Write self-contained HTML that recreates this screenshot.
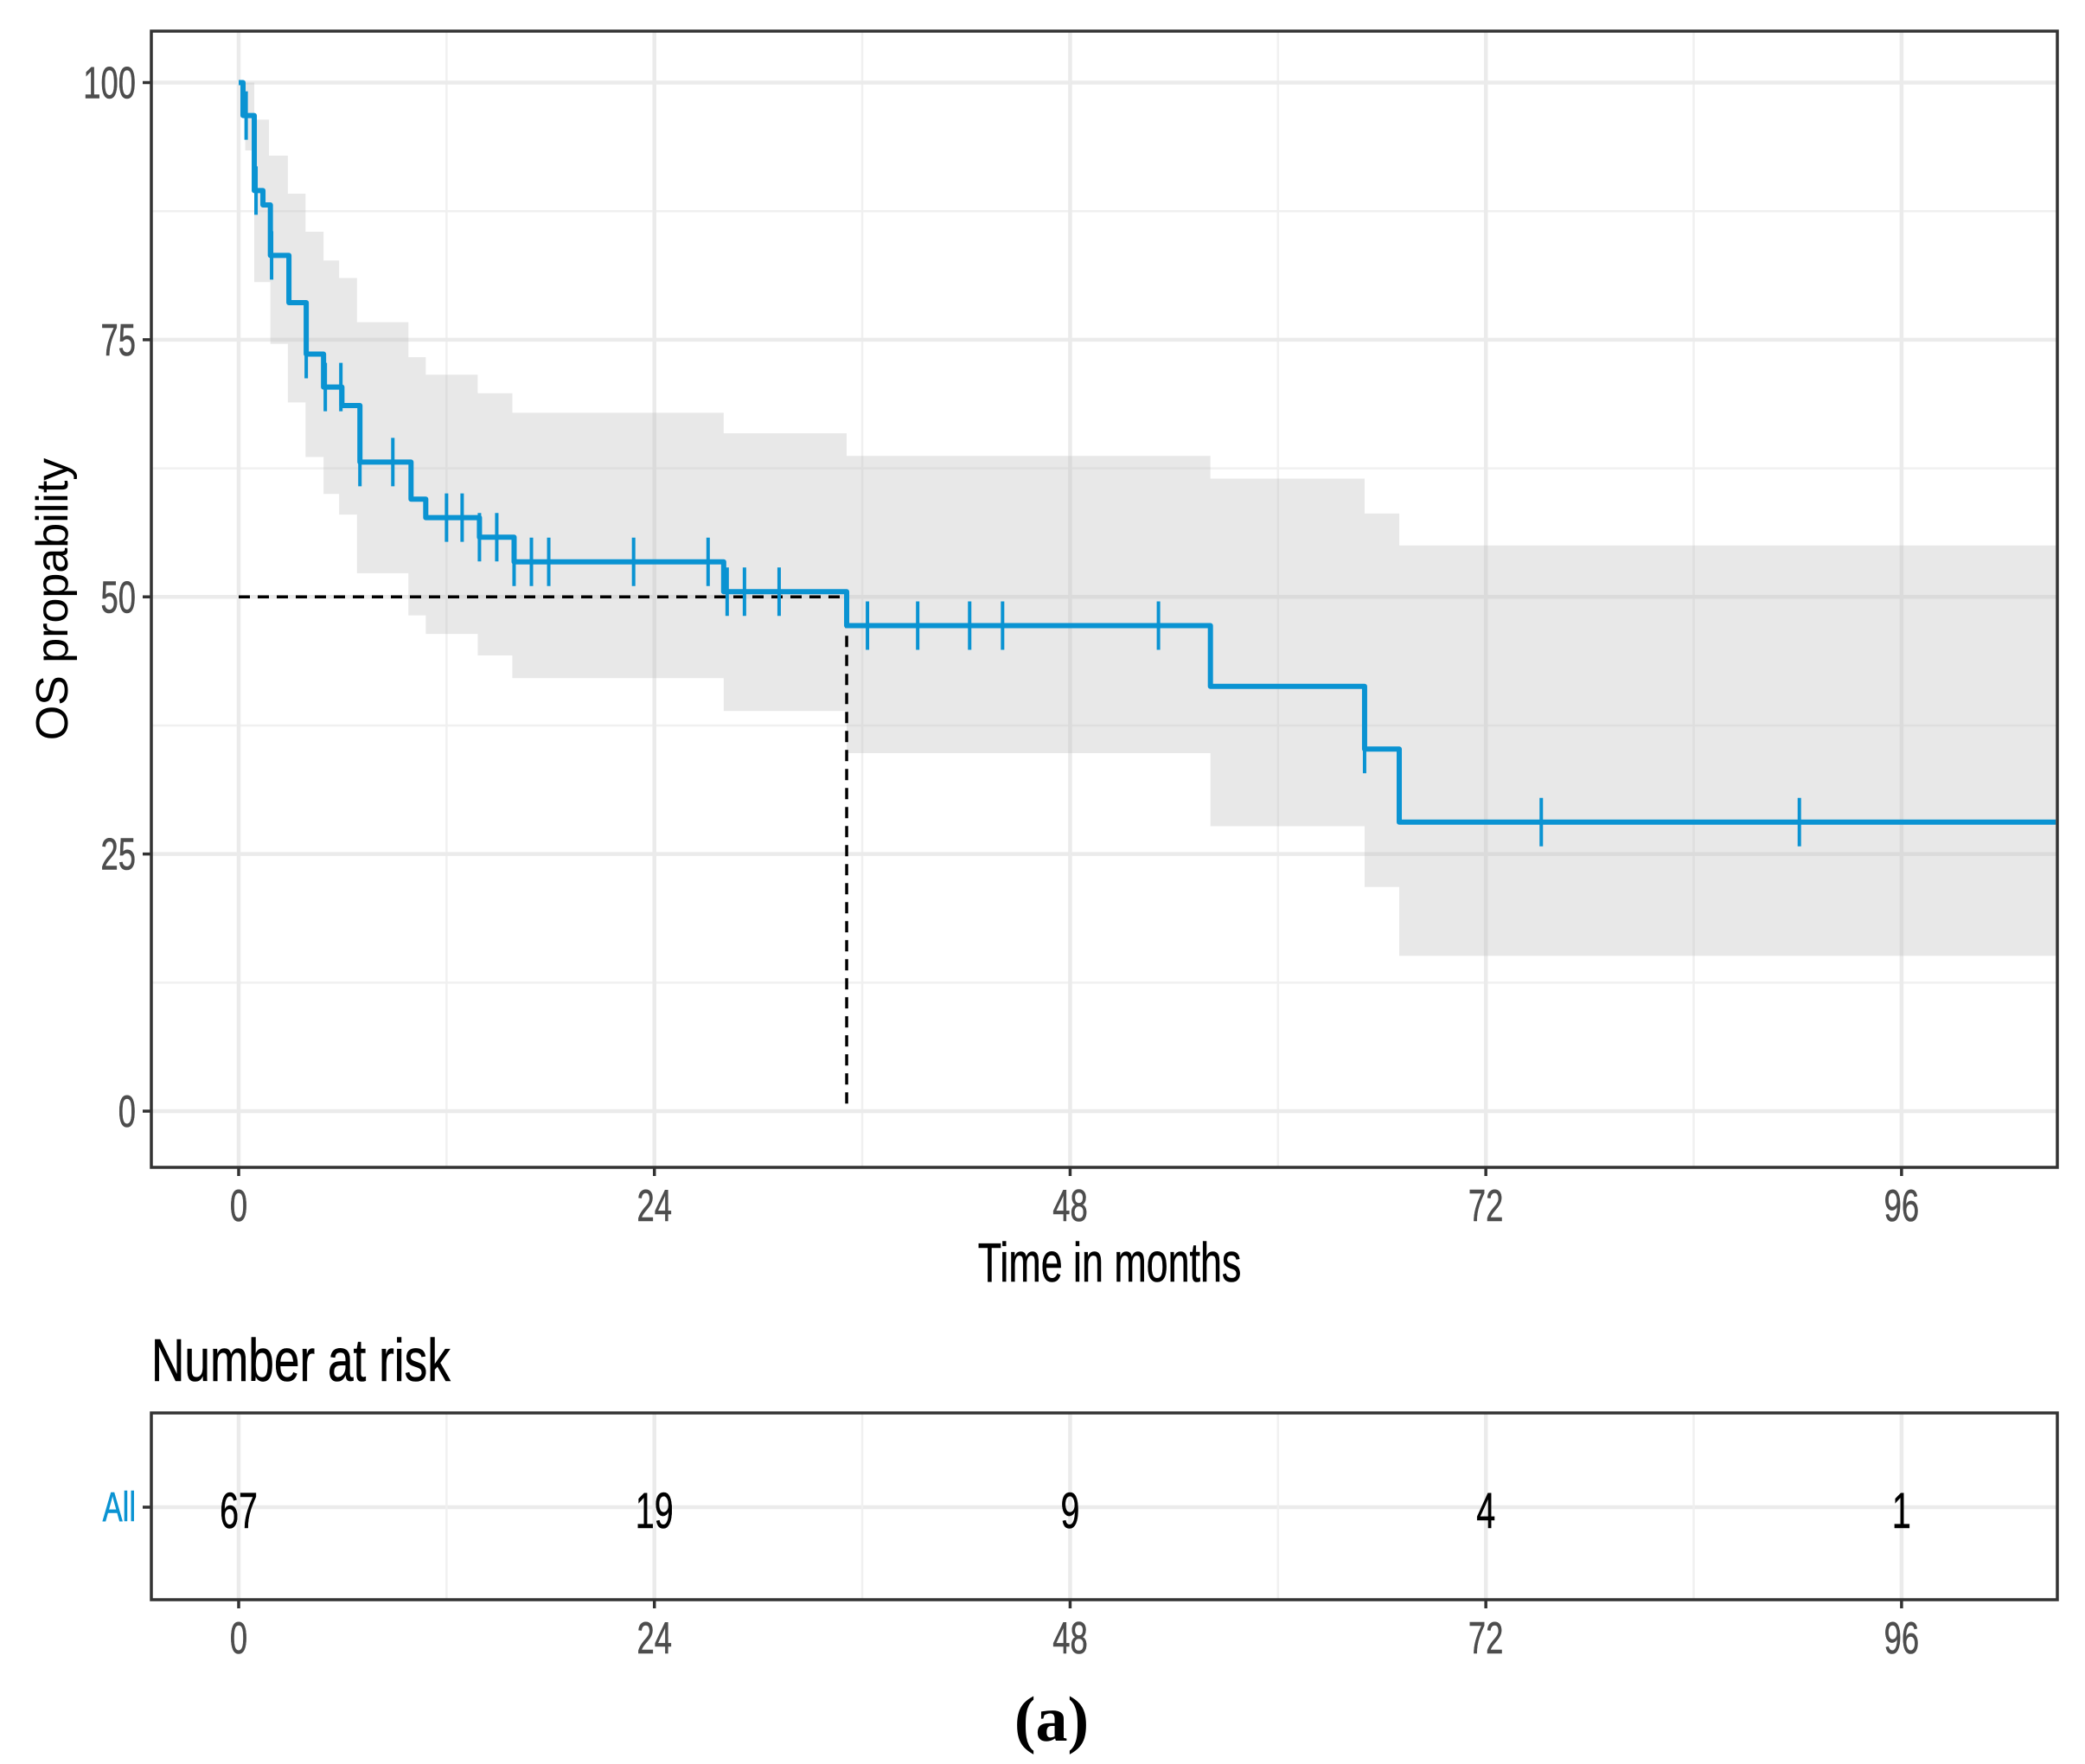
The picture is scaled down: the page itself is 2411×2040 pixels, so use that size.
<!DOCTYPE html>
<html><head><meta charset="utf-8"><style>
html,body{margin:0;padding:0;background:#fff;}
svg{display:block;}
text{font-family:"Liberation Sans",sans-serif;}
</style></head><body>
<svg id="c" width="2411" height="2040" viewBox="0 0 2411 2040" xmlns="http://www.w3.org/2000/svg"></svg>
<script>
// ---- data ----
const stepTimes =  [0, 0.25, 0.9, 1.4, 1.83, 2.9, 3.9, 4.9, 5.96, 7.0, 9.95, 10.8, 13.9, 15.9, 28.0, 35.1, 56.1, 65.0, 67.0];
const survival =   [100, 96.8, 89.5, 88.1, 83.2, 78.6, 73.6, 70.4, 68.6, 63.1, 59.5, 57.7, 55.8, 53.4, 50.5, 47.2, 41.3, 35.2, 28.1];
const upperTimes = [0, 0.9, 1.75, 2.84, 3.86, 4.9, 5.8, 6.83, 9.8, 10.8, 13.8, 15.8, 28.0, 35.1, 56.1, 65.0, 67.0];
const upperCI =    [100, 96.4, 92.9, 89.2, 85.5, 82.7, 81.0, 76.7, 73.3, 71.6, 69.8, 67.9, 65.9, 63.7, 61.5, 58.1, 55.0];
const lowerTimes = [0.38, 0.9, 1.83, 2.84, 3.86, 4.9, 5.8, 6.83, 9.8, 10.8, 13.8, 15.8, 28.0, 35.1, 56.1, 65.0, 67.0];
const lowerCI =    [93.4, 80.6, 74.6, 68.9, 63.6, 60.0, 58.0, 52.3, 48.2, 46.4, 44.3, 42.1, 38.9, 34.8, 27.7, 21.8, 15.1];
const censorTimes = [0.43, 1.0, 1.9, 3.9, 5.0, 5.9, 7.0, 8.9, 12.0, 12.9, 13.9, 14.9, 15.9, 16.9, 17.9, 22.8, 27.1, 28.2, 29.2, 31.2, 36.3, 39.2, 42.2, 44.1, 53.1, 65.0, 75.2, 90.1];
const medianTime = 35.1;
const endTime = 104.9;
const xTicks = [0, 24, 48, 72, 96];
const xMinor = [12, 36, 60, 84];
const yTicks = [0, 25, 50, 75, 100];
const yMinor = [12.5, 37.5, 62.5, 87.5];
const riskTimes = [0, 24, 48, 72, 96];
const riskCounts = [67, 19, 9, 4, 1];

// ---- axes ----
const X0 = 276, PXM = 20.03;
const Y100 = 95.5, Y0 = 1285;
const xs = t => X0 + t * PXM;
const ys = v => Y0 + (Y100 - Y0) * v / 100;
const P = {l:175, r:2379, t:36, b:1350};
const R = {t:1634, b:1850, row:1743};
const NS = "http://www.w3.org/2000/svg";
const svg = document.getElementById('c');
function el(tag, attrs, parent){ const e=document.createElementNS(NS,tag); for(const k in attrs) e.setAttribute(k,attrs[k]); (parent||svg).appendChild(e); return e; }
function txt(x, y, s, size, anchor, fill, sx){
  const e = el('text',{x:0,y:0,'text-anchor':anchor,'font-size':size,fill:fill,stroke:fill,'stroke-width':0.6,transform:`translate(${x},${y}) scale(${sx},1)`});
  e.textContent = s; return e;
}
function survAt(t){ let v=survival[0]; for(let i=0;i<stepTimes.length;i++){ if(stepTimes[i]<=t) v=survival[i]; } return v; }

// grid
const g = el('g',{});


yMinor.forEach(v=>el('line',{x1:P.l,x2:P.r,y1:ys(v),y2:ys(v),stroke:'#f0f0f0','stroke-width':2.5},g));
xMinor.forEach(t=>el('line',{x1:xs(t),x2:xs(t),y1:P.t,y2:P.b,stroke:'#f0f0f0','stroke-width':2.5},g));
yTicks.forEach(v=>el('line',{x1:P.l,x2:P.r,y1:ys(v),y2:ys(v),stroke:'#ebebeb','stroke-width':4.5},g));
xTicks.forEach(t=>el('line',{x1:xs(t),x2:xs(t),y1:P.t,y2:P.b,stroke:'#ebebeb','stroke-width':4.5},g));

// CI band
function stepPath(times, vals, tEnd){
  let pts=[];
  for(let i=0;i<times.length;i++){
    const tn = i+1<times.length ? times[i+1] : tEnd;
    pts.push([xs(times[i]), ys(vals[i])]); pts.push([xs(tn), ys(vals[i])]);
  }
  return pts;
}
const up = stepPath(upperTimes, upperCI, endTime);
const lo = stepPath(lowerTimes, lowerCI, endTime);
const ciPts = up.concat([[xs(endTime),ys(lowerCI[lowerCI.length-1])]]).concat(lo.slice().reverse()).concat([[xs(lowerTimes[0]),ys(upperCI[0])]]);
const ci = el('polygon',{points:ciPts.map(p=>p.join(',')).join(' '),fill:'#bdbdbd','fill-opacity':0.35});



// median
const med = el('path',{d:`M${xs(0)},${ys(50)} H${xs(medianTime)} V${ys(0)}`,fill:'none',stroke:'#000','stroke-width':3.5,'stroke-dasharray':'13,9'});



// curve
let d='';
for(let i=0;i<stepTimes.length;i++){
  const tn = i+1<stepTimes.length ? stepTimes[i+1] : endTime;
  d += (i===0?`M${xs(stepTimes[i])},${ys(survival[i])}`:` V${ys(survival[i])}`) + ` H${xs(tn)}`;
}
const curve = el('path',{d:d,fill:'none',stroke:'#0a93d2','stroke-width':6,'stroke-linejoin':'round'});


censorTimes.forEach(t=>{
  const c = el('line',{x1:xs(t),x2:xs(t),y1:ys(survAt(t))-28,y2:ys(survAt(t))+28,stroke:'#0a93d2','stroke-width':4});
  
  
});

// panel border
const pb = el('rect',{x:P.l,y:P.t,width:P.r-P.l,height:P.b-P.t,fill:'none',stroke:'#333','stroke-width':3.5});



yTicks.forEach(v=>{
  el('line',{x1:P.l-10,x2:P.l,y1:ys(v),y2:ys(v),stroke:'#333','stroke-width':3.5});
  const tx = txt(P.l-18, ys(v)+18, v, 52, 'end', '#4d4d4d', 0.7);
  
  
});
xTicks.forEach(t=>{
  el('line',{x1:xs(t),x2:xs(t),y1:P.b,y2:P.b+10,stroke:'#333','stroke-width':3.5});
  const tx = txt(xs(t), P.b+62, t, 52, 'middle', '#4d4d4d', 0.7);
  
  
});
const xt = txt(1283, 1482, 'Time in months', 64, 'middle', '#000', 0.7);


const yt = el('text',{x:0,y:0,'text-anchor':'middle','font-size':52,fill:'#000',transform:'translate(78,693) rotate(-90)'});
yt.textContent='OS propability';



// risk table
const rt = txt(175, 1597, 'Number at risk', 70, 'start', '#000', 0.76);


el('line',{x1:P.l,x2:P.r,y1:R.row,y2:R.row,stroke:'#ebebeb','stroke-width':4.5});
xMinor.forEach(t=>el('line',{x1:xs(t),x2:xs(t),y1:R.t,y2:R.b,stroke:'#f0f0f0','stroke-width':2.5}));
xTicks.forEach(t=>el('line',{x1:xs(t),x2:xs(t),y1:R.t,y2:R.b,stroke:'#ebebeb','stroke-width':4.5}));
const rb = el('rect',{x:P.l,y:R.t,width:P.r-P.l,height:R.b-R.t,fill:'none',stroke:'#333','stroke-width':3.5});


el('line',{x1:P.l-10,x2:P.l,y1:R.row,y2:R.row,stroke:'#333','stroke-width':3.5});
const al = txt(P.l-18, R.row+16, 'All', 48, 'end', '#0a93d2', 0.72);


riskTimes.forEach((t,i)=>{
  const tx = txt(xs(t), R.row+24, riskCounts[i], 58, 'middle', '#000', 0.68);
  
  
});
xTicks.forEach(t=>{
  el('line',{x1:xs(t),x2:xs(t),y1:R.b,y2:R.b+10,stroke:'#333','stroke-width':3.5});
  const tx = txt(xs(t), R.b+62, t, 52, 'middle', '#4d4d4d', 0.7);
  
  
});
const cap = el('text',{x:1216,y:2013,'text-anchor':'middle','font-size':74,'font-weight':'bold',fill:'#000',style:'font-family:"Liberation Serif",serif'});
cap.textContent='(a)';


</script>
</body></html>
